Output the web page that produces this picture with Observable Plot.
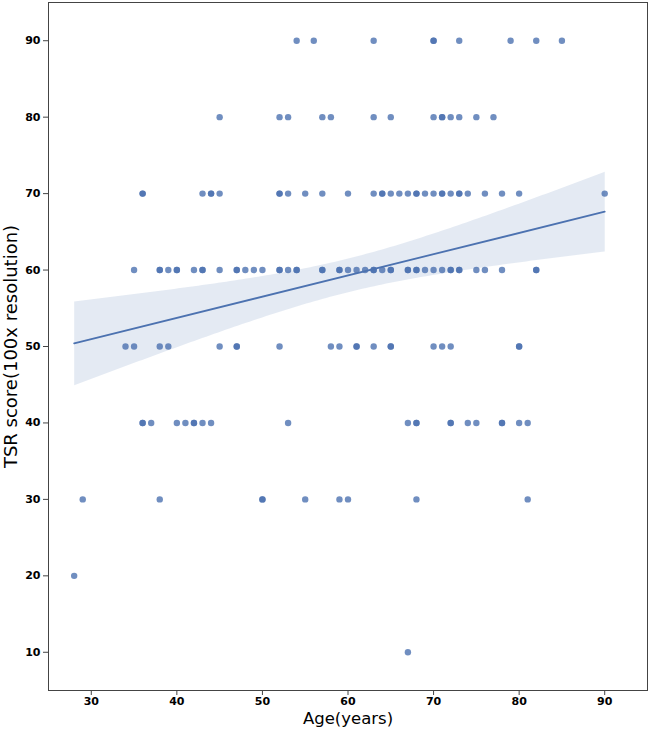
<!DOCTYPE html>
<html><head><meta charset="utf-8">
<script src="https://cdn.jsdelivr.net/npm/d3@7"></script>
<script src="https://cdn.jsdelivr.net/npm/@observablehq/plot@0.6"></script>
<style>
body{margin:0;background:#fff}
svg{display:block}
g[aria-label="x-axis tick label"] text, g[aria-label="y-axis tick label"] text {font-weight:bold}
</style>
</head><body><div id="chart"></div>
<script>
// TSR score levels and the ages (years) observed at each level
const scoreLevels = [90, 80, 70, 60, 50, 40, 30, 20, 10];
const ages90 = [54, 56, 63, 70, 70, 73, 79, 82, 85];
const ages80 = [45, 52, 53, 57, 58, 63, 65, 70, 71, 71, 72, 73, 75, 77];
const ages70 = [36, 36, 43, 44, 44, 45, 52, 52, 53, 55, 57, 60, 63, 64, 64, 65, 66, 67, 68, 68, 69, 70, 71, 71, 72, 73, 73, 74, 76, 78, 80, 90];
const ages60 = [35, 38, 38, 39, 40, 40, 42, 43, 43, 45, 47, 47, 48, 49, 50, 52, 52, 53, 54, 54, 57, 57, 59, 59, 60, 61, 62, 63, 63, 64, 65, 65, 67, 67, 68, 68, 69, 70, 71, 72, 72, 73, 73, 75, 76, 78, 82, 82];
const ages50 = [34, 35, 38, 39, 45, 47, 47, 52, 58, 59, 61, 61, 63, 65, 65, 70, 71, 72, 80, 80];
const ages40 = [36, 36, 37, 40, 41, 42, 42, 43, 44, 53, 67, 68, 68, 72, 72, 74, 75, 78, 78, 80, 81];
const ages30 = [29, 38, 50, 50, 55, 59, 60, 68, 81];
const ages20 = [28];
const ages10 = [67];
const xTicks = [30, 40, 50, 60, 70, 80, 90];
const yTicks = [10, 20, 30, 40, 50, 60, 70, 80, 90];

const rows = [ages90, ages80, ages70, ages60, ages50, ages40, ages30, ages20, ages10];
const data = scoreLevels.flatMap((s, i) => rows[i].map(a => ({age: a, tsr: s})));

const blue = "#4C72B0";
const chart = Plot.plot({
  width: 649, height: 731,
  marginLeft: 48, marginRight: 2, marginTop: 2, marginBottom: 41,
  style: {fontFamily: "DejaVu Sans", background: "white", color: "black"},
  x: {domain: [25, 95]},
  y: {domain: [5, 95]},
  marks: [
    Plot.dot(data, {x: "age", y: "tsr", r: 3.2, fill: blue, fillOpacity: 0.8}),
    Plot.linearRegressionY(data, {x: "age", y: "tsr", stroke: blue, strokeWidth: 1.8, fill: blue, fillOpacity: 0.15, ci: 0.92}),
    Plot.frame({stroke: "#444", strokeWidth: 1}),
    Plot.axisX({ticks: xTicks, tickSize: 5, tickPadding: 2, fontSize: 11, fontWeight: "bold", label: null, stroke: "#444", fill: "black"}),
    Plot.axisY({ticks: yTicks, tickSize: 5, tickPadding: 3, fontSize: 11, fontWeight: "bold", label: null, stroke: "#444", fill: "black"}),
    Plot.text(["Age(years)"], {frameAnchor: "bottom", dy: 33, fontSize: 16.5, fill: "black"}),
    Plot.text(["TSR score(100x resolution)"], {frameAnchor: "left", textAnchor: "middle", dx: -37, rotate: -90, fontSize: 18, fill: "black"})
  ]
});
document.getElementById("chart").appendChild(chart);
</script>
</body></html>
